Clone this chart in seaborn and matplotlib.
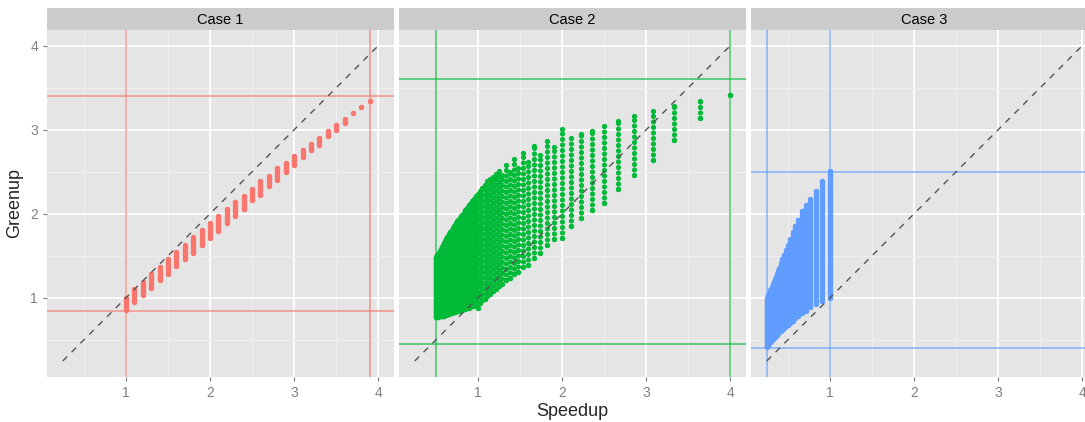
import matplotlib
matplotlib.use("Agg")
import matplotlib.pyplot as plt
import pandas as pd
import seaborn as sns

# ---- data ------------------------------------------------------------------
case_names = ["Case 1", "Case 2", "Case 3"]
case_colors = ["#F8766D", "#00BA38", "#619CFF"]

# Case 1: one column of configurations per speedup value (lowest / highest greenup)
c1_speedup = [1.0, 1.1, 1.2, 1.3, 1.4, 1.5, 1.6, 1.7, 1.8, 1.9,
              2.0, 2.1, 2.2, 2.3, 2.4, 2.5, 2.6, 2.7, 2.8, 2.9,
              3.0, 3.1, 3.2, 3.3, 3.4, 3.5, 3.6, 3.7, 3.8, 3.9]
c1_green_lo = [0.86, 0.95, 1.03, 1.12, 1.21, 1.29, 1.38, 1.46, 1.54, 1.63,
               1.71, 1.80, 1.89, 1.98, 2.06, 2.16, 2.23, 2.33, 2.40, 2.50,
               2.58, 2.68, 2.76, 2.82, 2.93, 3.00, 3.08, 3.20, 3.27, 3.34]
c1_green_hi = [1.00, 1.10, 1.19, 1.28, 1.37, 1.46, 1.55, 1.63, 1.73, 1.81,
               1.89, 1.97, 2.06, 2.14, 2.21, 2.29, 2.39, 2.45, 2.54, 2.61,
               2.69, 2.76, 2.83, 2.90, 2.98, 3.06, 3.13, 3.20, 3.27, 3.34]

# Case 2
c2_speedup = [4.0, 3.636, 3.333, 3.077, 2.857, 2.667, 2.5, 2.353, 2.222, 2.105, 2.0,
              1.905, 1.818, 1.739, 1.667, 1.6, 1.538, 1.481, 1.429, 1.379, 1.333,
              1.29, 1.25, 1.212, 1.176, 1.143, 1.111, 1.081, 1.053, 1.026, 1.0,
              0.976, 0.952, 0.93, 0.909, 0.889, 0.87, 0.851, 0.833, 0.816, 0.8,
              0.784, 0.769, 0.755, 0.741, 0.727, 0.714, 0.702, 0.69, 0.678, 0.667,
              0.656, 0.645, 0.635, 0.625, 0.615, 0.606, 0.597, 0.588, 0.58, 0.571,
              0.563, 0.556, 0.548, 0.541, 0.533, 0.526, 0.519, 0.513, 0.506, 0.5]
c2_green_lo = [3.41, 3.14, 2.88, 2.64, 2.46, 2.30, 2.13, 2.04, 1.95, 1.86, 1.71,
               1.70, 1.63, 1.53, 1.47, 1.39, 1.37, 1.31, 1.28, 1.24, 1.21,
               1.17, 1.14, 1.11, 1.08, 1.05, 1.02, 0.99, 0.97, 0.94, 0.88,
               0.91, 0.90, 0.90, 0.89, 0.88, 0.88, 0.87, 0.87, 0.86, 0.86,
               0.85, 0.85, 0.84, 0.84, 0.83, 0.83, 0.83, 0.82, 0.82, 0.82,
               0.81, 0.81, 0.81, 0.80, 0.80, 0.80, 0.79, 0.79, 0.79, 0.79,
               0.78, 0.78, 0.78, 0.78, 0.78, 0.77, 0.77, 0.77, 0.77, 0.77]
c2_green_hi = [3.41, 3.34, 3.28, 3.22, 3.16, 3.10, 3.04, 2.99, 2.95, 2.90, 3.01,
               2.79, 2.87, 2.70, 2.81, 2.62, 2.73, 2.55, 2.65, 2.50, 2.58,
               2.46, 2.51, 2.47, 2.44, 2.41, 2.39, 2.34, 2.31, 2.27, 2.24,
               2.21, 2.18, 2.15, 2.12, 2.10, 2.07, 2.04, 2.01, 1.99, 1.97,
               1.95, 1.93, 1.91, 1.89, 1.87, 1.85, 1.83, 1.81, 1.79, 1.78,
               1.76, 1.74, 1.72, 1.70, 1.68, 1.67, 1.65, 1.63, 1.62, 1.60,
               1.58, 1.57, 1.56, 1.54, 1.53, 1.52, 1.51, 1.50, 1.49, 1.49]

# Case 3
c3_speedup = [1.0, 0.909, 0.833, 0.769, 0.714, 0.667, 0.625, 0.588, 0.556, 0.526,
              0.5, 0.476, 0.455, 0.435, 0.417, 0.4, 0.385, 0.37, 0.357, 0.345,
              0.333, 0.323, 0.313, 0.303, 0.294, 0.286, 0.278, 0.27, 0.263, 0.256, 0.25]
c3_green_lo = [1.00, 0.96, 0.93, 0.89, 0.85, 0.82, 0.79, 0.76, 0.73, 0.70,
               0.68, 0.66, 0.64, 0.62, 0.61, 0.59, 0.58, 0.56, 0.55, 0.53,
               0.52, 0.51, 0.50, 0.49, 0.48, 0.47, 0.46, 0.45, 0.44, 0.43, 0.42]
c3_green_hi = [2.51, 2.39, 2.27, 2.18, 2.10, 2.03, 1.93, 1.86, 1.78, 1.70,
               1.63, 1.57, 1.51, 1.46, 1.41, 1.36, 1.32, 1.28, 1.25, 1.22,
               1.19, 1.16, 1.13, 1.11, 1.09, 1.07, 1.05, 1.03, 1.02, 1.00, 0.99]

# reference lines (speedup bounds / greenup bounds) per case
case_vlines = [[1.0, 3.9], [0.5, 4.0], [0.25, 1.0]]
case_hlines = [[0.85, 3.4], [0.45, 3.6], [0.4, 2.5]]

diag = [0.25, 4.0]
major_ticks = [1, 2, 3, 4]
minor_ticks = [0.5, 1.5, 2.5, 3.5]

cases = [
    (c1_speedup, c1_green_lo, c1_green_hi),
    (c2_speedup, c2_green_lo, c2_green_hi),
    (c3_speedup, c3_green_lo, c3_green_hi),
]

# ---- style ------------------------------------------------------------------
sns.set_theme(style="darkgrid", rc={
    "axes.facecolor": "#E5E5E5",
    "grid.color": "white",
    "axes.edgecolor": "none",
    "lines.scale_dashes": False,
})
plt.rcParams["font.family"] = ["Liberation Sans", "DejaVu Sans"]

W, H = 1085, 422
fig = plt.figure(figsize=(W / 100, H / 100), dpi=100)

panel_left = [47, 399, 751]
panel_w = 347
panel_top, panel_bot = 30, 376.7
strip_top = 8
lims = (0.0625, 4.1875)
grey_txt = "#7F7F7F"
dot_lw = 3.8

for i, (name, color) in enumerate(zip(case_names, case_colors)):
    xs, lo, hi = cases[i]
    ax = fig.add_axes([panel_left[i] / W, 1 - panel_bot / H,
                       panel_w / W, (panel_bot - panel_top) / H])
    ax.set_xlim(*lims)
    ax.set_ylim(*lims)
    ax.set_xticks(major_ticks)
    ax.set_yticks(major_ticks)
    ax.set_xticks(minor_ticks, minor=True)
    ax.set_yticks(minor_ticks, minor=True)
    ax.grid(which="major", color="white", lw=1.3)
    ax.grid(which="minor", color="#F2F2F2", lw=0.6)
    ax.tick_params(which="major", length=3, width=0.8, color=grey_txt,
                   labelcolor=grey_txt, labelsize=10, pad=3.5,
                   bottom=True, left=(i == 0))
    ax.tick_params(which="minor", length=0)
    if i > 0:
        ax.set_yticklabels([])
    for s in ax.spines.values():
        s.set_visible(False)

    for v in case_vlines[i]:
        ax.axvline(v, color=color, lw=1.1, alpha=0.75, zorder=2)
    for h in case_hlines[i]:
        ax.axhline(h, color=color, lw=1.1, alpha=0.75, zorder=2)

    # columns of configurations
    if i == 1:
        cols = pd.DataFrame({"x": xs, "lo": lo, "hi": hi})
        dense = cols[cols["x"] < 1.0]
        sparse = cols[cols["x"] >= 1.0]
        ax.vlines(dense["x"], dense["lo"], dense["hi"], colors=color,
                  linewidth=dot_lw, capstyle="round", zorder=3)
        ax.vlines(sparse["x"], sparse["lo"], sparse["hi"], colors=color,
                  linewidth=dot_lw, capstyle="round",
                  linestyles=[(0, (0.01, 3.95))], zorder=3)
    else:
        ax.vlines(xs, lo, hi, colors=color, linewidth=dot_lw,
                  capstyle="round", zorder=3)

    ends = pd.DataFrame({"Speedup": list(xs) + list(xs),
                         "Greenup": list(lo) + list(hi)})
    sns.scatterplot(data=ends, x="Speedup", y="Greenup", color=color,
                    s=dot_lw ** 2, linewidth=0, ax=ax, zorder=3)
    ax.set_xlabel("")
    ax.set_ylabel("")

    ax.plot(diag, diag, color="#555555", lw=1.0, ls=(0, (4.5, 4.5)), zorder=4)

    # facet strip
    sax = fig.add_axes([panel_left[i] / W, 1 - panel_top / H,
                        panel_w / W, (panel_top - strip_top) / H])
    sax.set_facecolor("#CCCCCC")
    sax.set_xticks([])
    sax.set_yticks([])
    sax.grid(False)
    for s in sax.spines.values():
        s.set_visible(False)
    sax.text(0.5, 0.45, name, ha="center", va="center", fontsize=10.5,
             color="black", transform=sax.transAxes)

fig.text(15 / W, 1 - 203.3 / H, "Greenup", rotation=90, ha="center",
         va="center", fontsize=13)
fig.text((399 + panel_w / 2) / W, 1 - 416.5 / H, "Speedup", ha="center",
         va="baseline", fontsize=13)

fig.savefig("out.png", dpi=100)
